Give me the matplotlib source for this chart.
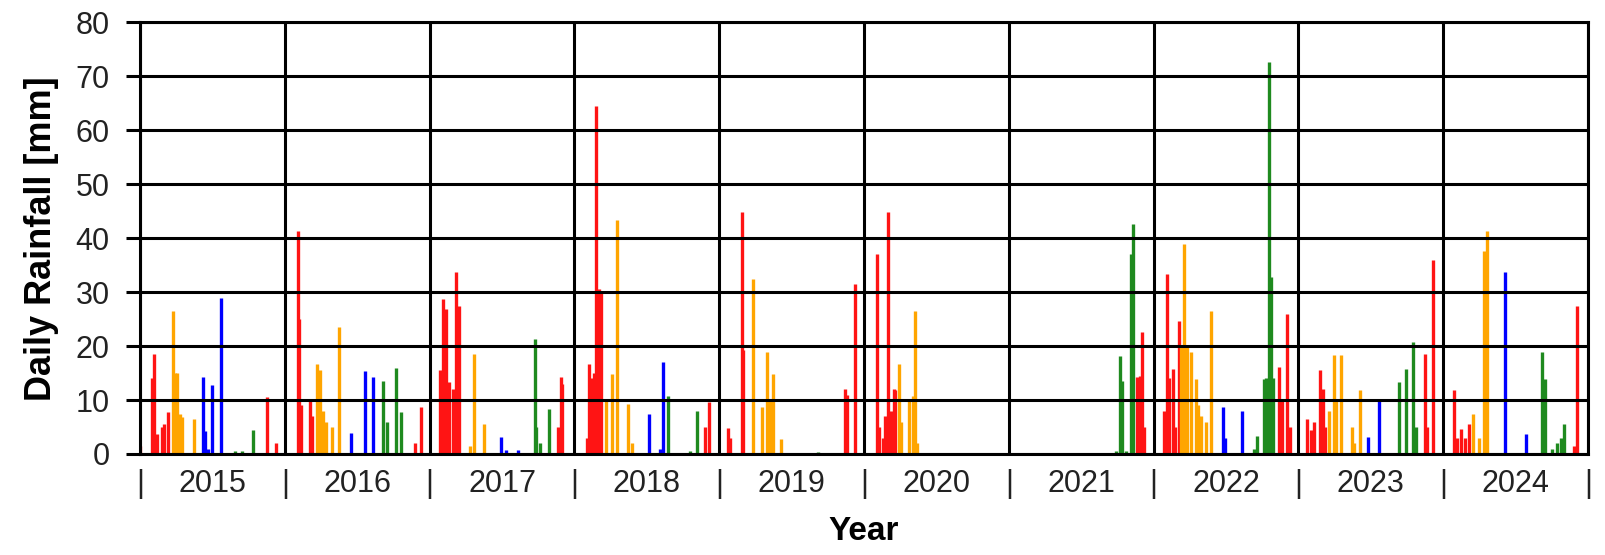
import matplotlib
matplotlib.use("Agg")
import matplotlib.pyplot as plt
import numpy as np

plt.rcParams['font.family'] = ['Liberation Sans', 'DejaVu Sans']

# (year, day of year, daily rainfall mm), grouped by bar colour
red_days = [
    (2015, 0, 1.5), (2015, 31, 14), (2015, 34, 18.5), (2015, 42, 3.7), (2015, 55, 5),
    (2015, 61, 5.5), (2015, 71, 7.7), (2015, 319, 10.5), (2015, 342, 2),
    (2016, 32, 41.4), (2016, 35, 25), (2016, 41, 9), (2016, 63, 9.9), (2016, 68, 7),
    (2016, 329, 2), (2016, 342, 8.8),
    (2017, 25, 15.5), (2017, 30, 15), (2017, 34, 28.8), (2017, 42, 26.9), (2017, 50, 13.3),
    (2017, 59, 12), (2017, 67, 33.7), (2017, 74, 27.5), (2017, 323, 5), (2017, 330, 14.2),
    (2017, 334, 13),
    (2018, 31, 3), (2018, 37, 16.7), (2018, 44, 14), (2018, 50, 15), (2018, 55, 64.6),
    (2018, 62, 30.6), (2018, 66, 30), (2018, 329, 5), (2018, 339, 9.6),
    (2019, 23, 4.9), (2019, 28, 3), (2019, 57, 44.8), (2019, 61, 19.2), (2019, 318, 12),
    (2019, 323, 11), (2019, 343, 31.5),
    (2020, 32, 37.1), (2020, 37, 5), (2020, 47, 3), (2020, 52, 7), (2020, 60, 44.8),
    (2020, 64, 7), (2020, 68, 8), (2020, 75, 12), (2020, 79, 11.8),
    (2021, 324, 14.2), (2021, 330, 14.5), (2021, 336, 22.6), (2021, 341, 5),
    (2022, 26, 8), (2022, 34, 33.4), (2022, 38, 14), (2022, 49, 15.8), (2022, 55, 5),
    (2022, 63, 24.7), (2022, 315, 16.1), (2022, 323, 10), (2022, 335, 26), (2022, 343, 5),
    (2023, 22, 6.5), (2023, 32, 4.5), (2023, 40, 6), (2023, 55, 15.5), (2023, 61, 12),
    (2023, 66, 5), (2023, 319, 18.6), (2023, 324, 5), (2023, 339, 35.9),
    (2024, 28, 11.8), (2024, 36, 3), (2024, 45, 4.6), (2024, 56, 3), (2024, 66, 5.5),
    (2024, 330, 1.5), (2024, 337, 27.5),
]

orange_days = [
    (2015, 82, 26.6), (2015, 88, 15), (2015, 92, 15), (2015, 101, 7.4), (2015, 105, 6.8),
    (2015, 137, 6.5),
    (2016, 80, 16.7), (2016, 88, 15.5), (2016, 97, 8), (2016, 103, 6), (2016, 120, 5),
    (2016, 136, 23.5),
    (2017, 101, 1.5), (2017, 111, 18.6), (2017, 137, 5.6),
    (2018, 80, 10), (2018, 94, 14.8), (2018, 107, 43.3), (2018, 134, 9.3), (2018, 144, 2),
    (2019, 85, 32.5), (2019, 108, 8.7), (2019, 120, 18.9), (2019, 129, 10), (2019, 135, 14.8),
    (2019, 155, 2.8),
    (2020, 89, 16.7), (2020, 93, 6), (2020, 114, 10), (2020, 123, 10.8), (2020, 129, 26.6),
    (2020, 134, 2),
    (2022, 70, 20.1), (2022, 76, 39), (2022, 85, 20), (2022, 95, 19), (2022, 106, 13.9),
    (2022, 112, 9), (2022, 120, 7), (2022, 133, 6), (2022, 144, 26.6),
    (2023, 78, 8), (2023, 89, 18.4), (2023, 95, 10), (2023, 108, 18.4), (2023, 134, 5),
    (2023, 141, 2), (2023, 154, 11.8),
    (2024, 74, 7.5), (2024, 91, 3), (2024, 102, 37.7), (2024, 110, 41.4),
]

blue_days = [
    (2015, 158, 14.2), (2015, 165, 4.3), (2015, 172, 1), (2015, 181, 12.7), (2015, 203, 29),
    (2016, 166, 3.8), (2016, 203, 15.3), (2016, 223, 14.2),
    (2017, 179, 3.1), (2017, 193, 0.8), (2017, 224, 0.8),
    (2018, 189, 7.4), (2018, 216, 1), (2018, 224, 17),
    (2022, 175, 8.7), (2022, 181, 3), (2022, 223, 8),
    (2023, 176, 3.1), (2023, 202, 9.9),
    (2024, 156, 33.7), (2024, 208, 3.7),
]

green_days = [
    (2015, 240, 0.5), (2015, 256, 0.5), (2015, 284, 4.5),
    (2016, 247, 13.6), (2016, 257, 5.9), (2016, 281, 16), (2016, 294, 7.7),
    (2017, 265, 21.3), (2017, 269, 5), (2017, 277, 2), (2017, 302, 8.3),
    (2018, 237, 10.8), (2018, 291, 0.5), (2018, 308, 8),
    (2019, 250, 0.3),
    (2021, 271, 0.5), (2021, 281, 18.2), (2021, 286, 13.6), (2021, 296, 0.5),
    (2021, 307, 37.1), (2021, 312, 42.7),
    (2022, 253, 1), (2022, 260, 3.4), (2022, 278, 13.9), (2022, 283, 14),
    (2022, 290, 72.7), (2022, 295, 32.8), (2022, 301, 14),
    (2023, 254, 13.3), (2023, 270, 15.8), (2023, 290, 20.7), (2023, 297, 5),
    (2024, 248, 18.9), (2024, 256, 13.9), (2024, 275, 1), (2024, 288, 2), (2024, 297, 3),
    (2024, 305, 5.6),
]

years = list(range(2015, 2025))

fig = plt.figure(figsize=(16.06, 5.55), dpi=100)
ax = fig.add_axes([0.0872, 0.182, 0.9016, 0.7775])

for rows, col in [(red_days, '#ff1414'), (orange_days, '#ffa500'),
                  (blue_days, '#0000ff'), (green_days, '#1f8a1f')]:
    d = np.array(rows, dtype=float)
    x = d[:, 0] + d[:, 1] / 365.0
    ax.vlines(x, 0, d[:, 2], colors=col, linewidth=2.4)

ax.set_xlim(2015, 2025)
ax.set_ylim(0, 80)
ax.set_yticks(np.arange(0, 81, 10))

# year boundaries get a "|" mark, year names sit in between
ax.set_xticks(range(2015, 2026))
ax.set_xticklabels(['|'] * 11)
ax.set_xticks([y + 0.5 for y in years], minor=True)
ax.set_xticklabels([str(y) for y in years], minor=True)
ax.tick_params(axis='x', which='both', length=0, pad=11, labelsize=22, labelcolor='#222222')
ax.tick_params(axis='y', length=10, width=2.2, pad=12, labelsize=22, labelcolor='#222222',
               color='black')

ax.set_axisbelow(False)
ax.grid(True, which='major', color='black', linewidth=2.2)
for s in ax.spines.values():
    s.set_linewidth(2.2)
    s.set_color('black')

ax.set_ylabel('Daily Rainfall [mm]', fontsize=26, fontweight='bold', labelpad=12)
ax.set_xlabel('Year', fontsize=24, fontweight='bold', labelpad=12)

fig.savefig('out.png', dpi=100)
